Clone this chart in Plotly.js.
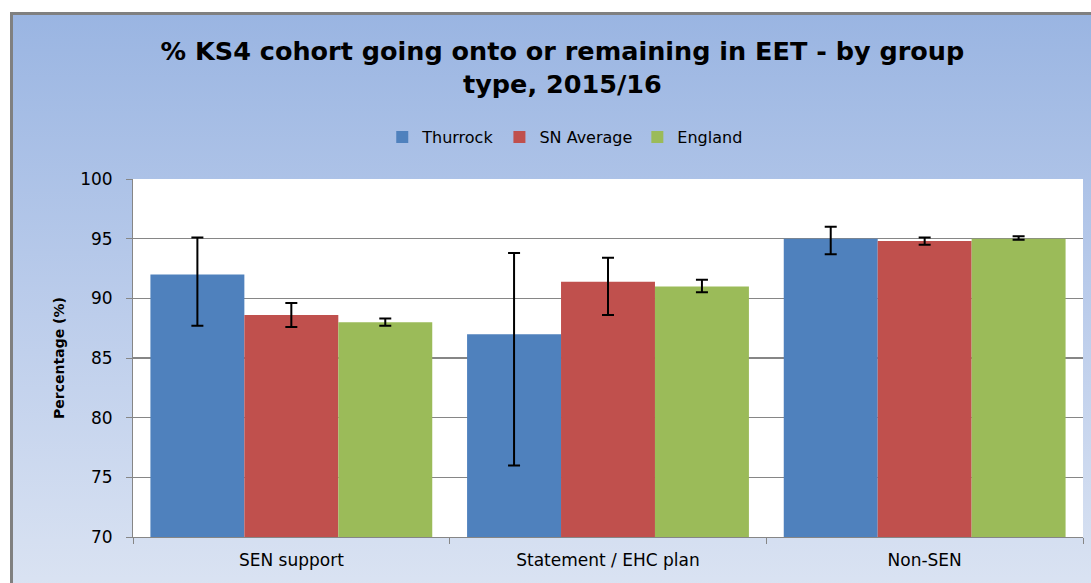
<!DOCTYPE html>
<html>
<head>
<meta charset="utf-8">
<script src="https://cdn.plot.ly/plotly-3.0.1.min.js"></script>
<style>
  html, body { margin:0; padding:0; background:#ffffff; width:1091px; height:583px; overflow:hidden; }
  #frame { position:absolute; left:10px; top:12px; width:1100px; height:600px;
           border-left:3px solid #808080; border-top:3px solid #808080;
           background:linear-gradient(to bottom, #9ab5e2 0%, #bccdeb 50%, #dde5f3 100%); }
  #chart { position:absolute; left:0; top:0; width:1091px; height:583px; }
</style>
</head>
<body>
<div id="frame"></div>
<div id="chart"></div>
<script>
const categories = ["SEN support", "Statement / EHC plan", "Non-SEN"];
const seriesNames = ["Thurrock", "SN Average", "England"];
const thurrock = [92.0, 87.0, 95.0];
const thurrockUp = [3.1, 6.8, 1.0];
const thurrockDown = [4.3, 11.0, 1.3];
const snAverage = [88.6, 91.4, 94.8];
const snUp = [1.0, 2.0, 0.3];
const snDown = [1.0, 2.8, 0.3];
const england = [88.0, 91.0, 95.0];
const engUp = [0.3, 0.55, 0.2];
const engDown = [0.3, 0.5, 0.1];
const colors = ["#4f81bd", "#c0504d", "#9bbb59"];

const vals = [thurrock, snAverage, england];
const ups = [thurrockUp, snUp, engUp];
const downs = [thurrockDown, snDown, engDown];

const traces = seriesNames.map((n, i) => ({
  type: "bar",
  name: n,
  x: categories,
  y: vals[i],
  base: 0,
  marker: { color: colors[i], line: { width: 0 } },
  error_y: { type: "data", symmetric: false, array: ups[i], arrayminus: downs[i],
             color: "#000000", thickness: 2, width: 6 },
  hoverinfo: "skip"
}));

const layout = {
  width: 1091, height: 583,
  paper_bgcolor: "rgba(0,0,0,0)",
  plot_bgcolor: "#ffffff",
  margin: { l: 133, r: 8, t: 179, b: 46 },
  barmode: "group",
  bargap: 0.11,
  bargroupgap: 0,
  title: {
    text: "% KS4 cohort going onto or remaining in EET - by group<br>type, 2015/16",
    font: { family: "DejaVu Sans, Verdana, sans-serif", size: 25.5, color: "#000000", weight: "bold" },
    xref: "paper", x: 0.452, xanchor: "center", y: 1 - 60 / 583, yanchor: "middle"
  },
  showlegend: true,
  legend: {
    orientation: "h", x: 0.455, xanchor: "center", y: 1 + 42 / 358, yanchor: "middle",
    font: { family: "DejaVu Sans, Verdana, sans-serif", size: 16, color: "#000000" },
    bgcolor: "rgba(0,0,0,0)", itemwidth: 30, traceorder: "normal"
  },
  xaxis: {
    type: "category",
    tickson: "boundaries",
    ticks: "outside", ticklen: 6, tickcolor: "#868686",
    showline: true, linecolor: "#868686", linewidth: 1,
    showgrid: false,
    ticklabelstandoff: 8,
    tickfont: { family: "DejaVu Sans, Verdana, sans-serif", size: 17, color: "#000000" },
    fixedrange: true
  },
  yaxis: {
    range: [70, 100],
    dtick: 5, tick0: 70,
    ticks: "outside", ticklen: 6, tickcolor: "#868686",
    showline: true, linecolor: "#868686", linewidth: 1,
    showgrid: true, gridcolor: "#868686", gridwidth: 1.5,
    zeroline: false,
    ticklabelstandoff: 10,
    tickfont: { family: "DejaVu Sans, Verdana, sans-serif", size: 17, color: "#000000" },
    title: { text: "Percentage (%)", standoff: 12,
             font: { family: "DejaVu Sans, Verdana, sans-serif", size: 14, color: "#000000", weight: "bold" } },
    fixedrange: true
  }
};

Plotly.newPlot("chart", traces, layout, { displayModeBar: false, staticPlot: true });
</script>
</body>
</html>
